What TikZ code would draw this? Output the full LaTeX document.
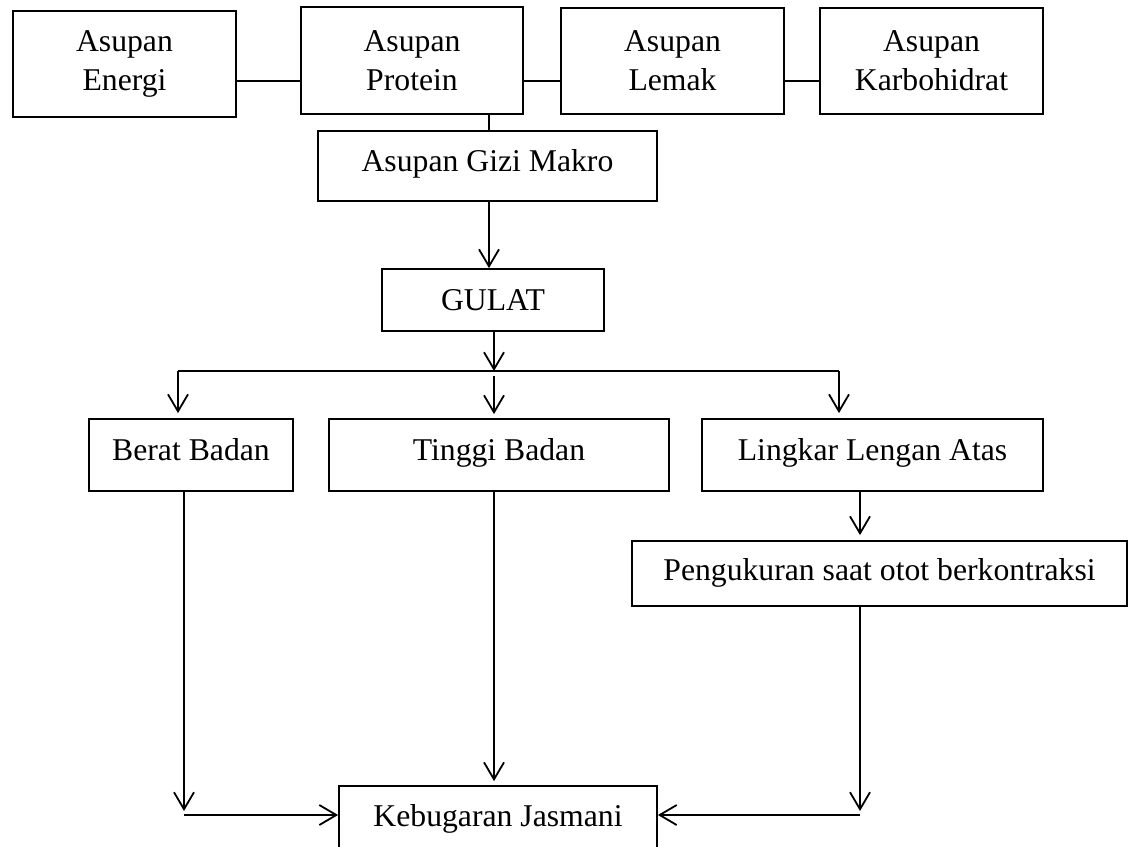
\documentclass[tikz,border=0pt]{standalone}
\usepackage{fontspec}
\setmainfont{Liberation Serif}
\usetikzlibrary{arrows.meta}
\begin{document}
\begin{tikzpicture}[x=1pt,y=-1pt,
  box/.style={draw, line width=1.8pt, inner sep=0pt, align=center,
    font=\fontsize{31.7}{39}\selectfont},
  one/.style={text height=21pt, text depth=#1},
  ln/.style={line width=1.8pt},
  arr/.style={line width=1.8pt, -{Straight Barb[length=17pt,width=20pt,line width=1.8pt]}}]
\useasboundingbox (0,0) rectangle (1134,846);
\clip (0,0) rectangle (1134,846);
% top row
\node[box, minimum width=223pt, minimum height=106pt] (en) at (124.5,64) {Asupan\\Energi};
\node[box, minimum width=222pt, minimum height=107pt] (pr) at (412,60.5) {Asupan\\Protein};
\node[box, minimum width=223pt, minimum height=106pt] (le) at (672.5,61) {Asupan\\Lemak};
\node[box, minimum width=223pt, minimum height=106pt] (ka) at (931.5,61) {Asupan\\Karbohidrat};
\node[box, one=9.6pt, minimum width=339pt, minimum height=70pt] (gz) at (487.5,166) {Asupan Gizi Makro};
\node[box, one=1pt, minimum width=222pt, minimum height=62pt] (gu) at (493,300) {GULAT};
\node[box, one=11pt, minimum width=204pt, minimum height=72pt] (bb) at (191,455) {Berat Badan};
\node[box, one=11pt, minimum width=340pt, minimum height=72pt] (tb) at (499,455) {Tinggi Badan};
\node[box, one=11pt, minimum width=341pt, minimum height=72pt] (li) at (872.5,455) {Lingkar Lengan Atas};
\node[box, one=7pt, minimum width=495pt, minimum height=65pt] (pe) at (879.5,573.5) {Pengukuran saat otot berkontraksi};
\node[box, one=3.6pt, minimum width=318pt, minimum height=64pt] (kb) at (498,818) {Kebugaran Jasmani};
% helper coordinates
\coordinate (yl) at (0,81);
\coordinate (xa) at (489,0);
\coordinate (xb) at (494,0);
\coordinate (bl) at (178,371);
\coordinate (br) at (839,371);
\coordinate (cl) at (184,0);
\coordinate (cr) at (860,0);
\coordinate (yb) at (0,815);
% top connectors
\draw[ln] (en.east |- yl) -- (pr.west |- yl);
\draw[ln] (pr.east |- yl) -- (le.west |- yl);
\draw[ln] (le.east |- yl) -- (ka.west |- yl);
\draw[ln] (pr.south -| xa) -- (gz.north -| xa);
\draw[arr] (gz.south -| xa) -- (gu.north -| xa);
% branching
\draw[arr] (gu.south -| xb) -- (xb |- bl);
\draw[ln, line width=2.2pt] (bl) -- (br);
\draw[arr, shorten >=5pt] (bl) -- (bl |- bb.north);
\draw[arr, shorten >=4pt] (494,376) -- (tb.north -| xb);
\draw[arr, shorten >=5pt] (br) -- (br |- li.north);
\draw[arr, shorten >=5pt] (li.south -| cr) -- (pe.north -| cr);
% bottom
\draw[arr] (bb.south -| cl) -- (184,811);
\draw[arr, line width=2.4pt] (cl |- yb) -- (kb.west |- yb);
\draw[arr, shorten >=4pt] (tb.south -| xb) -- (kb.north -| xb);
\draw[arr] (pe.south -| cr) -- (860,811);
\draw[arr, line width=2.4pt] (cr |- yb) -- (kb.east |- yb);
\end{tikzpicture}
\end{document}
